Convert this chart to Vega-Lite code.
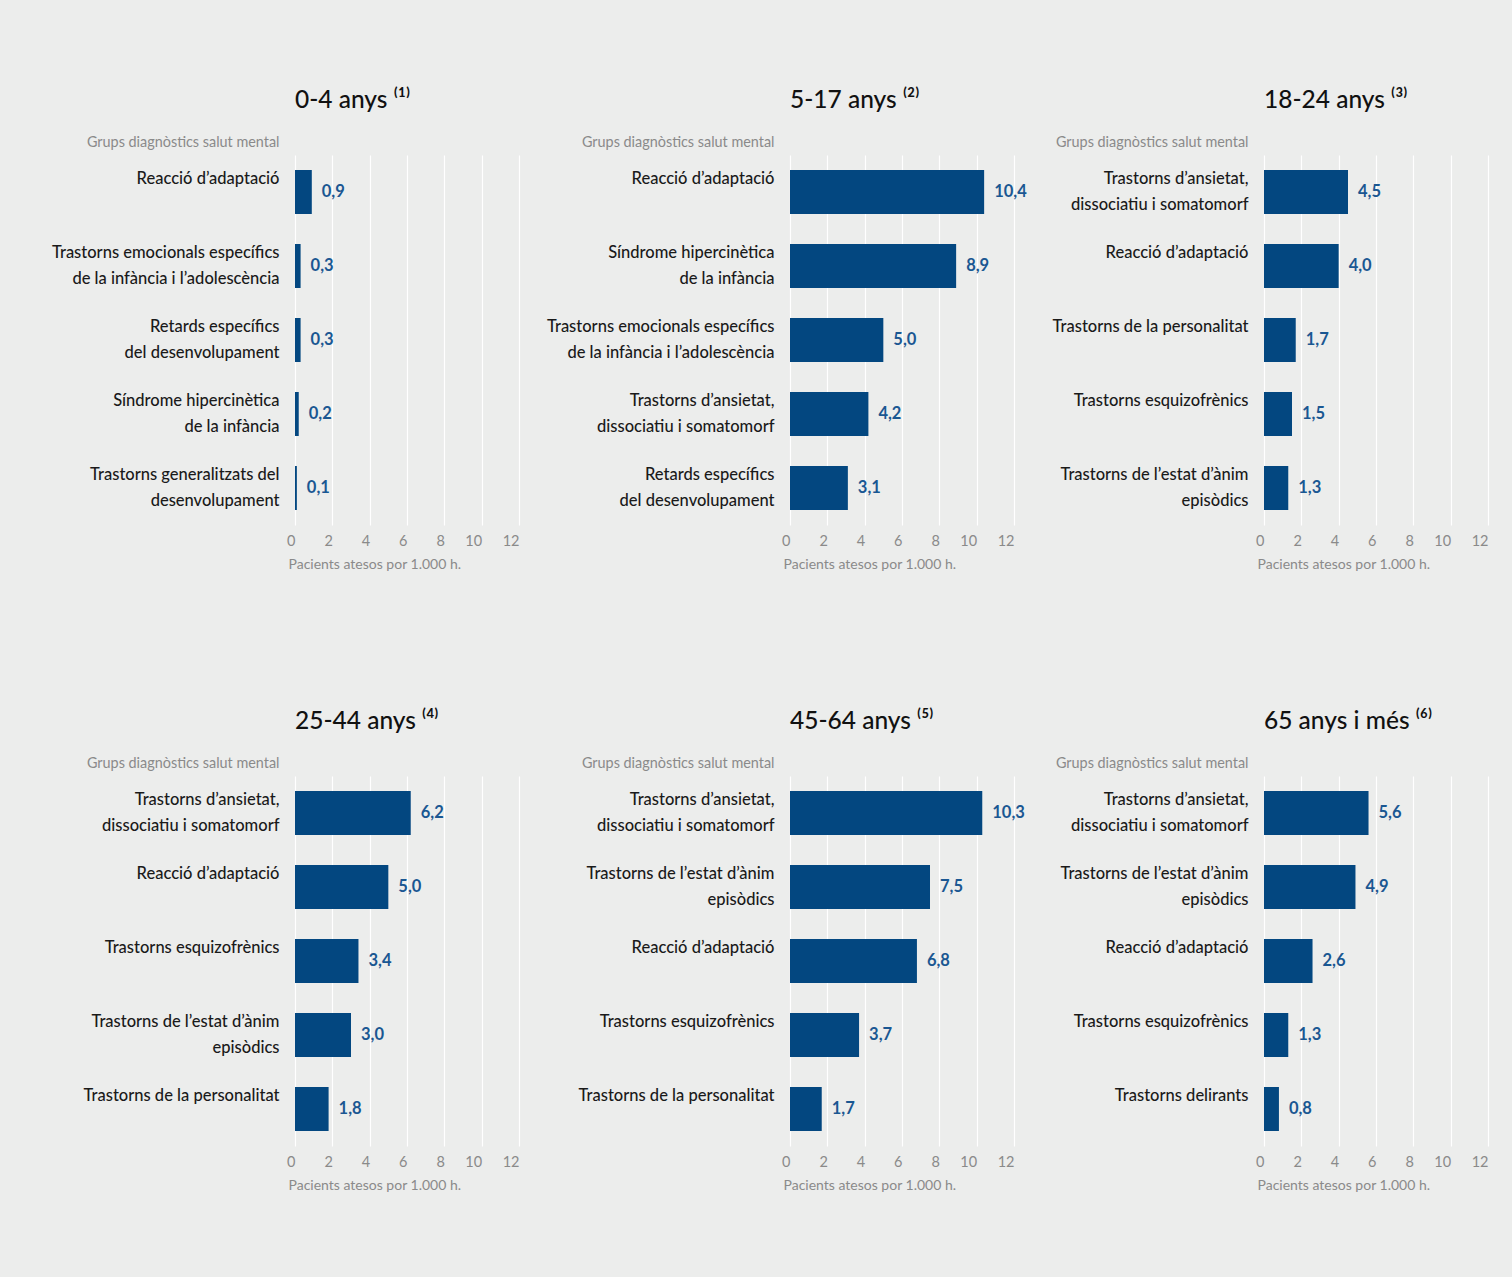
{
  "$schema": "https://vega.github.io/schema/vega-lite/v6.json",
  "background": "#ecedec",
  "padding": {"left": 51, "top": 87, "right": 28, "bottom": 91},
  "config": {
    "font": "Lato",
    "view": {"stroke": null},
    "locale": {"number": {"decimal": ",", "thousands": ".", "grouping": [3], "currency": ["", " €"]}},
    "title": {"anchor": "start", "frame": "group", "fontSize": 24.5, "fontWeight": 500, "color": "#111111", "baseline": "alphabetic", "offset": 21},
    "axisY": {
      "titleAngle": 0, "titleAlign": "right", "titleX": -16, "titleY": -9, "titleBaseline": "alphabetic",
      "titleFontSize": 14.4, "titleFontWeight": "normal", "titleColor": "#8a8a8a",
      "labelExpr": "split(datum.label, '|')",
      "labelFontSize": 16.5, "labelFontWeight": 500, "labelColor": "#1a1a1a", "labelLineHeight": 25.5, "labelPadding": 16, "labelLimit": 400, "labelOffset": -13,
      "ticks": false, "domain": false, "grid": false
    },
    "axisX": {
      "values": [0, 2, 4, 6, 8, 10, 12],
      "grid": true, "gridColor": "#ffffff", "gridWidth": 1.2,
      "domain": false, "ticks": false,
      "labelAlign": "right", "labelBaseline": "alphabetic", "labelPadding": 20, "labelColor": "#8a8a8a", "labelFontSize": 14.5,
      "titleAnchor": "start", "titleAlign": "left", "titleX": -7, "titleY": 43, "titleBaseline": "alphabetic",
      "titleFontSize": 14, "titleFontWeight": "normal", "titleColor": "#8a8a8a"
    }
  },
  "datasets": {
    "d": [
      {"grup": "0-4", "cat": "Reacció d’adaptació", "valor": 0.9},
      {"grup": "0-4", "cat": "Trastorns emocionals específics|de la infància i l’adolescència", "valor": 0.3},
      {"grup": "0-4", "cat": "Retards específics|del desenvolupament", "valor": 0.3},
      {"grup": "0-4", "cat": "Síndrome hipercinètica|de la infància", "valor": 0.2},
      {"grup": "0-4", "cat": "Trastorns generalitzats del|desenvolupament", "valor": 0.1},
      {"grup": "5-17", "cat": "Reacció d’adaptació", "valor": 10.4},
      {"grup": "5-17", "cat": "Síndrome hipercinètica|de la infància", "valor": 8.9},
      {"grup": "5-17", "cat": "Trastorns emocionals específics|de la infància i l’adolescència", "valor": 5.0},
      {"grup": "5-17", "cat": "Trastorns d’ansietat,|dissociatiu i somatomorf", "valor": 4.2},
      {"grup": "5-17", "cat": "Retards específics|del desenvolupament", "valor": 3.1},
      {"grup": "18-24", "cat": "Trastorns d’ansietat,|dissociatiu i somatomorf", "valor": 4.5},
      {"grup": "18-24", "cat": "Reacció d’adaptació", "valor": 4.0},
      {"grup": "18-24", "cat": "Trastorns de la personalitat", "valor": 1.7},
      {"grup": "18-24", "cat": "Trastorns esquizofrènics", "valor": 1.5},
      {"grup": "18-24", "cat": "Trastorns de l’estat d’ànim|episòdics", "valor": 1.3},
      {"grup": "25-44", "cat": "Trastorns d’ansietat,|dissociatiu i somatomorf", "valor": 6.2},
      {"grup": "25-44", "cat": "Reacció d’adaptació", "valor": 5.0},
      {"grup": "25-44", "cat": "Trastorns esquizofrènics", "valor": 3.4},
      {"grup": "25-44", "cat": "Trastorns de l’estat d’ànim|episòdics", "valor": 3.0},
      {"grup": "25-44", "cat": "Trastorns de la personalitat", "valor": 1.8},
      {"grup": "45-64", "cat": "Trastorns d’ansietat,|dissociatiu i somatomorf", "valor": 10.3},
      {"grup": "45-64", "cat": "Trastorns de l’estat d’ànim|episòdics", "valor": 7.5},
      {"grup": "45-64", "cat": "Reacció d’adaptació", "valor": 6.8},
      {"grup": "45-64", "cat": "Trastorns esquizofrènics", "valor": 3.7},
      {"grup": "45-64", "cat": "Trastorns de la personalitat", "valor": 1.7},
      {"grup": "65+", "cat": "Trastorns d’ansietat,|dissociatiu i somatomorf", "valor": 5.6},
      {"grup": "65+", "cat": "Trastorns de l’estat d’ànim|episòdics", "valor": 4.9},
      {"grup": "65+", "cat": "Reacció d’adaptació", "valor": 2.6},
      {"grup": "65+", "cat": "Trastorns esquizofrènics", "valor": 1.3},
      {"grup": "65+", "cat": "Trastorns delirants", "valor": 0.8}
    ]
  },
  "data": {"name": "d"},
  "columns": 3,
  "align": "each",
  "bounds": "flush",
  "spacing": {"column": 250, "row": 251},
  "concat": [
    {
      "title": {"text": "0-4 anys ⁽¹⁾"},
      "width": 245, "height": 370,
      "transform": [{"filter": "datum.grup == '0-4'"}],
      "encoding": {
        "y": {"field": "cat", "type": "nominal", "sort": null, "scale": {"paddingInner": 0.4054, "paddingOuter": 0.2027}, "axis": {"title": "Grups diagnòstics salut mental"}},
        "x": {"field": "valor", "type": "quantitative", "scale": {"domain": [0, 13.125], "nice": false}, "axis": {"title": "Pacients atesos por 1.000 h."}}
      },
      "layer": [
        {"mark": {"type": "bar", "color": "#034780"}},
        {"mark": {"type": "text", "align": "left", "baseline": "middle", "dx": 10, "fontWeight": "bold", "fontSize": 16.5, "color": "#1a5792"},
         "encoding": {"text": {"field": "valor", "type": "quantitative", "format": ".1f"}}}
      ]
    },
    {
      "title": {"text": "5-17 anys ⁽²⁾"},
      "width": 224, "height": 370,
      "transform": [{"filter": "datum.grup == '5-17'"}],
      "encoding": {
        "y": {"field": "cat", "type": "nominal", "sort": null, "scale": {"paddingInner": 0.4054, "paddingOuter": 0.2027}, "axis": {"title": "Grups diagnòstics salut mental"}},
        "x": {"field": "valor", "type": "quantitative", "scale": {"domain": [0, 12], "nice": false}, "axis": {"title": "Pacients atesos por 1.000 h."}}
      },
      "layer": [
        {"mark": {"type": "bar", "color": "#034780"}},
        {"mark": {"type": "text", "align": "left", "baseline": "middle", "dx": 10, "fontWeight": "bold", "fontSize": 16.5, "color": "#1a5792"},
         "encoding": {"text": {"field": "valor", "type": "quantitative", "format": ".1f"}}}
      ]
    },
    {
      "title": {"text": "18-24 anys ⁽³⁾"},
      "width": 224, "height": 370,
      "transform": [{"filter": "datum.grup == '18-24'"}],
      "encoding": {
        "y": {"field": "cat", "type": "nominal", "sort": null, "scale": {"paddingInner": 0.4054, "paddingOuter": 0.2027}, "axis": {"title": "Grups diagnòstics salut mental"}},
        "x": {"field": "valor", "type": "quantitative", "scale": {"domain": [0, 12], "nice": false}, "axis": {"title": "Pacients atesos por 1.000 h."}}
      },
      "layer": [
        {"mark": {"type": "bar", "color": "#034780"}},
        {"mark": {"type": "text", "align": "left", "baseline": "middle", "dx": 10, "fontWeight": "bold", "fontSize": 16.5, "color": "#1a5792"},
         "encoding": {"text": {"field": "valor", "type": "quantitative", "format": ".1f"}}}
      ]
    },
    {
      "title": {"text": "25-44 anys ⁽⁴⁾"},
      "width": 245, "height": 370,
      "transform": [{"filter": "datum.grup == '25-44'"}],
      "encoding": {
        "y": {"field": "cat", "type": "nominal", "sort": null, "scale": {"paddingInner": 0.4054, "paddingOuter": 0.2027}, "axis": {"title": "Grups diagnòstics salut mental"}},
        "x": {"field": "valor", "type": "quantitative", "scale": {"domain": [0, 13.125], "nice": false}, "axis": {"title": "Pacients atesos por 1.000 h."}}
      },
      "layer": [
        {"mark": {"type": "bar", "color": "#034780"}},
        {"mark": {"type": "text", "align": "left", "baseline": "middle", "dx": 10, "fontWeight": "bold", "fontSize": 16.5, "color": "#1a5792"},
         "encoding": {"text": {"field": "valor", "type": "quantitative", "format": ".1f"}}}
      ]
    },
    {
      "title": {"text": "45-64 anys ⁽⁵⁾"},
      "width": 224, "height": 370,
      "transform": [{"filter": "datum.grup == '45-64'"}],
      "encoding": {
        "y": {"field": "cat", "type": "nominal", "sort": null, "scale": {"paddingInner": 0.4054, "paddingOuter": 0.2027}, "axis": {"title": "Grups diagnòstics salut mental"}},
        "x": {"field": "valor", "type": "quantitative", "scale": {"domain": [0, 12], "nice": false}, "axis": {"title": "Pacients atesos por 1.000 h."}}
      },
      "layer": [
        {"mark": {"type": "bar", "color": "#034780"}},
        {"mark": {"type": "text", "align": "left", "baseline": "middle", "dx": 10, "fontWeight": "bold", "fontSize": 16.5, "color": "#1a5792"},
         "encoding": {"text": {"field": "valor", "type": "quantitative", "format": ".1f"}}}
      ]
    },
    {
      "title": {"text": "65 anys i més ⁽⁶⁾"},
      "width": 224, "height": 370,
      "transform": [{"filter": "datum.grup == '65+'"}],
      "encoding": {
        "y": {"field": "cat", "type": "nominal", "sort": null, "scale": {"paddingInner": 0.4054, "paddingOuter": 0.2027}, "axis": {"title": "Grups diagnòstics salut mental"}},
        "x": {"field": "valor", "type": "quantitative", "scale": {"domain": [0, 12], "nice": false}, "axis": {"title": "Pacients atesos por 1.000 h."}}
      },
      "layer": [
        {"mark": {"type": "bar", "color": "#034780"}},
        {"mark": {"type": "text", "align": "left", "baseline": "middle", "dx": 10, "fontWeight": "bold", "fontSize": 16.5, "color": "#1a5792"},
         "encoding": {"text": {"field": "valor", "type": "quantitative", "format": ".1f"}}}
      ]
    }
  ]
}
